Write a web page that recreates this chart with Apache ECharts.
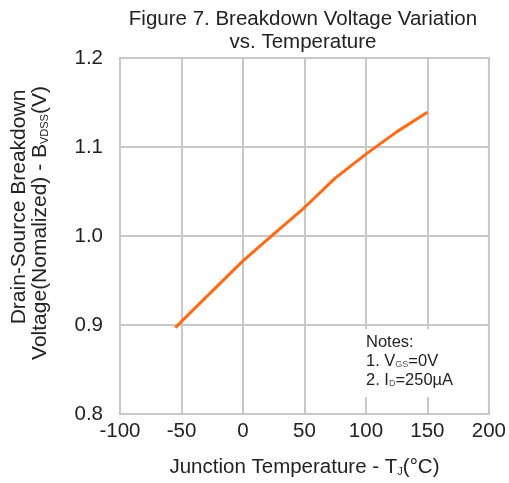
<!DOCTYPE html>
<html><head><meta charset="utf-8">
<script src="https://cdn.jsdelivr.net/npm/echarts@6/dist/echarts.min.js"></script>
<style>html,body{margin:0;padding:0;background:#fff}#c{width:509px;height:483px}</style>
</head><body><div id="c"></div>
<script>
const temperatures = [-55, -50, -25, 0, 25, 50, 75, 100, 125, 150];
const bvdssNorm = [0.897, 0.904, 0.938, 0.972, 1.002, 1.032, 1.065, 1.092, 1.117, 1.139];
const xTicks = [-100, -50, 0, 50, 100, 150, 200];
const yTicks = [0.8, 0.9, 1.0, 1.1, 1.2];
const titleLines = ['Figure 7. Breakdown Voltage Variation', 'vs. Temperature'];
const yNameLines = ['Drain-Source Breakdown', 'Voltage(Nomalized) - B{s|VDSS}(V)'];
const xName = 'Junction Temperature - T{s|J}(°C)';
const notes = ['Notes:', '1. V{s|GS}=0V', '2. I{s|D}=250µA'];

const FONT = 'Liberation Sans, Arial, sans-serif';
const TXT = '#222';
const chart = echarts.init(document.getElementById('c'));
chart.setOption({
  animation: false,
  backgroundColor: '#fff',
  title: {
    text: titleLines.join('\n'),
    left: 298, textAlign: 'center', top: 3,
    textStyle: {fontFamily: FONT, fontSize: 20.5, fontWeight: 'normal', color: TXT, lineHeight: 23}
  },
  grid: {left: 120, right: 18, top: 58, bottom: 69, show: true, borderColor: '#c8c8c8', borderWidth: 2, backgroundColor: 'transparent'},
  xAxis: {
    type: 'value', min: xTicks[0], max: xTicks[xTicks.length - 1], interval: 50,
    axisLine: {show: false}, axisTick: {show: false},
    splitLine: {show: true, lineStyle: {color: '#c8c8c8', width: 2}},
    axisLabel: {fontFamily: FONT, fontSize: 20.5, color: TXT, margin: 7},
    name: xName, nameLocation: 'middle', nameGap: 43,
    nameTextStyle: {fontFamily: FONT, fontSize: 20.5, color: TXT,
      rich: {s: {fontFamily: FONT, fontSize: 11, color: TXT, padding: [9, 0, 0, 0]}}}
  },
  yAxis: {
    type: 'value', min: yTicks[0], max: yTicks[yTicks.length - 1], interval: 0.1,
    axisLine: {show: false}, axisTick: {show: false},
    splitLine: {show: true, lineStyle: {color: '#c8c8c8', width: 2}},
    axisLabel: {fontFamily: FONT, fontSize: 20.5, color: TXT, margin: 17, formatter: v => v.toFixed(1)}
  },
  graphic: [{
    type: 'text', x: 19, y: 207, rotation: Math.PI / 2, z: 6,
    style: {text: yNameLines[0], fontFamily: FONT, fontSize: 21, fill: TXT, align: 'center', verticalAlign: 'middle'}
  }, {
    type: 'text', x: 40, y: 223, rotation: Math.PI / 2, z: 6,
    style: {text: yNameLines[1], fontFamily: FONT, fontSize: 21, fill: TXT, align: 'center', verticalAlign: 'middle',
      rich: {s: {fontFamily: FONT, fontSize: 11, fill: TXT, padding: [9, 0, 0, 0]}}}
  }, {
    type: 'rect', shape: {x: 362, y: 329, width: 100, height: 68}, style: {fill: '#fff'}, z: 5
  }, {
    type: 'text', left: 366, top: 333, z: 6,
    style: {text: notes.join('\n'), fontFamily: FONT, fontSize: 16.5, fill: TXT, lineHeight: 19,
      rich: {s: {fontFamily: FONT, fontSize: 9, fill: '#555', padding: [7, 0, 0, 0]}}}
  }],
  series: [{
    type: 'line', data: temperatures.map((t, i) => [t, bvdssNorm[i]]),
    showSymbol: false, lineStyle: {color: '#ff6a13', width: 3}, z: 3
  }]
});
</script></body></html>
